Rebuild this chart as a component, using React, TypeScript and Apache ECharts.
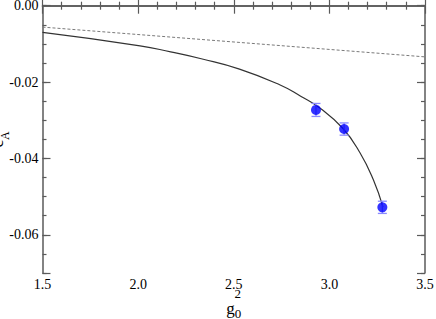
import React, { useEffect, useRef } from 'react';
import * as echarts from 'echarts';

// Fitted (interpolating) curve
const fitCurve: [number, number][] = [
  [1.5, -0.007],
  [2.01, -0.0105],
  [2.17, -0.0121],
  [2.33, -0.0139],
  [2.53, -0.0166],
  [2.74, -0.0207],
  [2.85, -0.0237],
  [2.95, -0.0268],
  [3.07, -0.0321],
  [3.16, -0.0385],
  [3.23, -0.0456],
  [3.28, -0.0527],
];

// One-loop perturbative line (dashed)
const oneLoop: [number, number][] = [
  [1.5, -0.0056],
  [3.5, -0.0134],
];

// Non-perturbative data points
const g0sq = [2.93, 3.077, 3.277];
const cA = [-0.0273, -0.0323, -0.0528];
const cAErr = [0.0017, 0.0016, 0.0016];

const xMin = 1.5;
const xMax = 3.5;
const xStep = 0.5;
const yMin = -0.07;
const yMax = 0;
const yMajor = 0.02;
const yMinor = 0.005;

const FONT = 'Liberation Serif';
const AXIS_COLOR = '#5a5a5a';

const tickRich = { t: { fontFamily: FONT, fontSize: 14, color: '#000' } };

export default function App() {
  const ref = useRef<HTMLDivElement>(null);
  useEffect(() => {
    if (!ref.current) return;
    const chart = echarts.init(ref.current, null, { renderer: 'svg' });
    const axisLine = { show: true, lineStyle: { color: AXIS_COLOR, width: 1.5 } };
    const tickStyle = { color: AXIS_COLOR, width: 1.2 };
    const baseX = {
      type: 'value' as const,
      min: xMin,
      max: xMax,
      interval: xStep,
      axisLine,
      axisTick: { show: true, inside: true, length: 8, lineStyle: tickStyle },
      minorTick: { show: true, splitNumber: 5, length: 4, lineStyle: tickStyle },
      splitLine: { show: false },
      minorSplitLine: { show: false },
    };
    const minorY = {
      type: 'value' as const,
      min: yMin,
      max: yMax,
      interval: yMinor,
      axisLine,
      axisTick: { show: true, inside: true, length: 4, lineStyle: tickStyle },
      axisLabel: { show: false },
      splitLine: { show: false },
    };
    const majorY = {
      type: 'value' as const,
      inverse: true,
      min: -yMax,
      max: -yMin,
      interval: yMajor,
      axisLine: { show: false },
      axisTick: { show: true, inside: true, length: 8, lineStyle: tickStyle },
      splitLine: { show: false },
    };
    chart.setOption({
      animation: false,
      backgroundColor: '#fff',
      textStyle: { fontFamily: FONT },
      grid: {
        left: 42.5,
        right: 11,
        top: 5.7,
        bottom: 46,
        containLabel: false,
        outerBoundsMode: 'none',
      },
      xAxis: [
        {
          ...baseX,
          position: 'bottom',
          axisLabel: {
            show: true,
            color: '#000',
            fontFamily: FONT,
            fontSize: 14,
            margin: 4,
            rich: tickRich,
            formatter: (v: number) => '{t|' + v.toFixed(1) + '}',
          },
          name: '{sp|}{sup|2}\n{g|g}{sub|0}',
          nameLocation: 'middle',
          nameMoveOverlap: false,
          nameGap: 14,
          nameTextStyle: {
            color: '#000',
            fontFamily: FONT,
            verticalAlign: 'top',
            rich: {
              sp: { width: 8, fontSize: 13, lineHeight: 13, fontFamily: FONT },
              sup: { fontSize: 13, fontFamily: FONT, color: '#000', lineHeight: 13 },
              g: { fontSize: 17, fontFamily: FONT, color: '#000', lineHeight: 20, verticalAlign: 'top' },
              sub: { fontSize: 13, fontFamily: FONT, color: '#000', lineHeight: 13, verticalAlign: 'bottom' },
            },
          },
        },
        { ...baseX, position: 'top', axisLabel: { show: false } },
      ],
      yAxis: [
        { ...minorY, position: 'left' },
        {
          ...majorY,
          position: 'left',
          axisLabel: {
            show: true,
            color: '#000',
            fontFamily: FONT,
            fontSize: 14,
            margin: 4,
            rich: tickRich,
            formatter: (v: number) =>
              v > -yMin - 0.005 ? '' : '{t|' + (v === 0 ? '0.00' : (-v).toFixed(2)) + '}',
          },
          name: '{c|c}{a|A}',
          nameLocation: 'middle',
          nameRotate: 90,
          nameMoveOverlap: false,
          nameGap: 32,
          nameTextStyle: {
            color: '#000',
            fontFamily: FONT,
            rich: {
              c: { fontSize: 17, fontFamily: FONT, color: '#000', lineHeight: 22, verticalAlign: 'top' },
              a: { fontSize: 12, fontFamily: FONT, color: '#000', lineHeight: 12, verticalAlign: 'bottom' },
            },
          },
        },
        { ...minorY, position: 'right' },
        { ...majorY, position: 'right', axisLabel: { show: false } },
      ],
      series: [
        {
          type: 'line',
          xAxisIndex: 0,
          yAxisIndex: 0,
          data: oneLoop,
          symbol: 'none',
          lineStyle: { color: '#7a7a7a', width: 1, type: [3, 2] },
          z: 2,
        },
        {
          type: 'line',
          xAxisIndex: 0,
          yAxisIndex: 0,
          data: fitCurve,
          symbol: 'none',
          smooth: 0.5,
          lineStyle: { color: '#333', width: 1.2 },
          z: 3,
        },
        {
          type: 'custom',
          xAxisIndex: 0,
          yAxisIndex: 0,
          data: g0sq.map((g, i) => [g, cA[i], cAErr[i]]),
          encode: { x: 0, y: 1 },
          z: 4,
          renderItem: (params: any, api: any) => {
            const x = api.value(0);
            const y = api.value(1);
            const e = api.value(2);
            const top = api.coord([x, y + e]);
            const bot = api.coord([x, y - e]);
            const hw = 4.5;
            const style = { stroke: '#8a8aff', lineWidth: 1.3 };
            return {
              type: 'group',
              children: [
                { type: 'line', shape: { x1: top[0], y1: top[1], x2: bot[0], y2: bot[1] }, style },
                { type: 'line', shape: { x1: top[0] - hw, y1: top[1], x2: top[0] + hw, y2: top[1] }, style },
                { type: 'line', shape: { x1: bot[0] - hw, y1: bot[1], x2: bot[0] + hw, y2: bot[1] }, style },
              ],
            };
          },
        },
        {
          type: 'scatter',
          xAxisIndex: 0,
          yAxisIndex: 0,
          data: g0sq.map((g, i) => [g, cA[i]]),
          symbol: 'circle',
          symbolSize: 10,
          itemStyle: { color: '#0000ff' },
          z: 5,
        },
      ],
    });
    return () => chart.dispose();
  }, []);
  return (
    <div
      ref={ref}
      style={{ position: 'fixed', left: 0, top: 0, width: 436, height: 319, background: '#fff' }}
    />
  );
}
